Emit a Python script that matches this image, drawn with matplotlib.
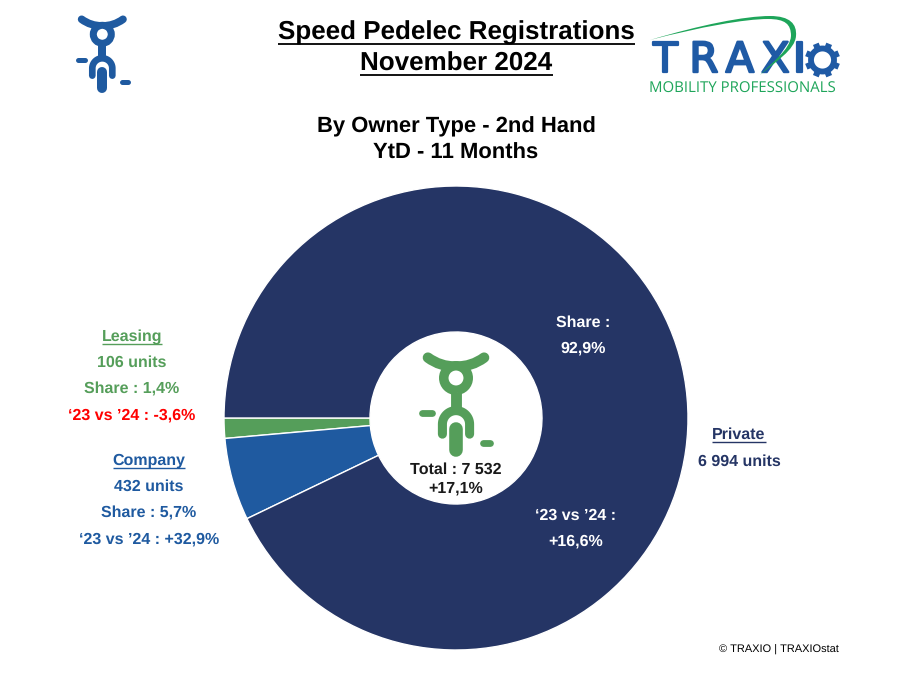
import numpy as np
import matplotlib
matplotlib.use("Agg")
import matplotlib.pyplot as plt
import matplotlib.patheffects as pe
from matplotlib.patches import Circle, Polygon, PathPatch
from matplotlib.path import Path

plt.rcParams['font.family'] = ['Liberation Sans', 'DejaVu Sans']
plt.rcParams['text.hinting'] = 'no_hinting'
plt.rcParams['text.hinting_factor'] = 1

# data
owner_types = ['Leasing', 'Company', 'Private']
units = [106, 432, 6994]
shares = ['1,4%', '5,7%', '92,9%']
changes = ['-3,6%', '+32,9%', '+16,6%']
total_label = 'Total : 7 532'
total_change = '+17,1%'

NAVY = '#253565'
BLUE = '#1F5AA0'
GREEN = '#559E5A'
RED = '#FF0000'
LOGO_BLUE = '#1F5AA5'
LOGO_GREEN = '#1EA55A'
LABEL_SIZE = 11.8


def underlined(ax, x, y, s, size, color, lw=1.5, gap=7):
    # text centred on x, with a line drawn under it
    t = ax.text(x, y, s, ha='center', va='center', fontsize=size, fontweight='bold', color=color)
    ax.figure.canvas.draw()
    box = t.get_window_extent()
    inv = ax.transData.inverted()
    x0 = inv.transform((box.x0, box.y0))[0]
    x1 = inv.transform((box.x1, box.y0))[0]
    ax.plot([x0, x1], [y + gap, y + gap], color=color, lw=lw, solid_capstyle='butt')


def label(ax, x, y, s, color):
    ax.text(x, y, s, ha='center', va='center', fontsize=LABEL_SIZE, fontweight='bold', color=color)


def draw_bike(ax, cx, cy, s, color, bg='white'):
    # pictogram, units are px of the small icon x3, origin in the ring centre
    def pts(xs, ys):
        return cx + np.array(xs) * s, cy + np.array(ys) * s

    k = s * 0.72  # stroke widths follow the icon scale
    verts = [(cx - 62 * s, cy - 45 * s), (cx - 35 * s, cy - 25 * s), (cx, cy - 25 * s),
             (cx + 35 * s, cy - 25 * s), (cx + 62 * s, cy - 45 * s)]
    codes = [Path.MOVETO, Path.CURVE3, Path.CURVE3, Path.CURVE3, Path.CURVE3]
    ax.add_patch(PathPatch(Path(verts, codes), fc='none', ec=color, lw=23 * k, capstyle='round'))
    ax.add_patch(Circle((cx, cy), 27 * s, fc=bg, ec=color, lw=21 * k))
    # neck with bolt
    x, y = pts([0, 0], [30, 72])
    ax.plot(x, y, color=color, lw=24 * k, solid_capstyle='butt')
    x, y = pts([4, -7, -1, -5, 7, 1], [32, 50, 50, 64, 45, 45])
    ax.add_patch(Polygon(np.column_stack([x, y]), fc=bg, ec='none'))
    # fork
    t = np.linspace(np.pi, 2 * np.pi, 30)
    fx = np.concatenate([[-30], 30 * np.cos(t), [30]])
    fy = np.concatenate([[124], 102 + 30 * np.sin(t), [124]])
    x, y = pts(fx, fy)
    ax.plot(x, y, color=color, lw=20 * k, solid_capstyle='round')
    # wheel
    x, y = pts([0, 0], [112, 160])
    ax.plot(x, y, color=color, lw=30 * k, solid_capstyle='round')
    # pegs
    x, y = pts([-74, -53], [78, 78])
    ax.plot(x, y, color=color, lw=15 * k, solid_capstyle='round')
    x, y = pts([59, 76], [144, 144])
    ax.plot(x, y, color=color, lw=15 * k, solid_capstyle='round')


def draw_logo(ax):
    # letters are set one by one, the logo type is wider than any installed font
    for ch, lx in zip('TRAXI', [665.5, 704, 740, 775.5, 799.5]):
        ax.text(lx, 60.5, ch, ha='center', va='center', fontsize=30, color=LOGO_BLUE, fontfamily='DejaVu Sans',
                path_effects=[pe.withStroke(linewidth=1.6, foreground=LOGO_BLUE)], zorder=2)
    # swoosh
    verts = [(650, 40), (700, 25), (745, 16), (770, 16), (790, 16), (797, 24), (796, 36),
             (795, 50), (775, 62), (760, 75), (772, 62), (790, 50), (791, 36),
             (791, 24), (785, 19), (768, 19), (745, 19), (700, 27), (650, 40)]
    codes = [Path.MOVETO] + [Path.CURVE4] * 18
    ax.add_patch(PathPatch(Path(verts, codes), fc=LOGO_GREEN, ec='none', zorder=3))
    # gear
    gx, gy = 822.5, 60
    ax.add_patch(Circle((gx, gy), 11.5, fc='none', ec=LOGO_BLUE, lw=4.2))
    for a in np.arange(0, 360, 45) + 22.5:
        ca, sa = np.cos(np.radians(a)), np.sin(np.radians(a))
        ax.plot([gx + 13 * ca, gx + 17.5 * ca], [gy + 13 * sa, gy + 17.5 * sa], color=LOGO_BLUE, lw=4.4,
                solid_capstyle='butt')
    ax.text(649, 88.5, 'MOBILITY PROFESSIONALS', ha='left', va='center', fontsize=11.1, color=LOGO_GREEN,
            fontfamily='Open Sans', fontweight='medium')


fig = plt.figure(figsize=(9, 6.75), dpi=100)
ax = fig.add_axes([0, 0, 1, 1])

colors = [GREEN, BLUE, NAVY]
ax.pie(units, colors=colors, startangle=180, counterclock=False, center=(456, 418), radius=232,
       wedgeprops=dict(width=146, edgecolor='white', linewidth=1))

ax.set_xlim(0, 900)
ax.set_ylim(675, 0)
ax.axis('off')

# titles
underlined(ax, 456.5, 33, 'Speed Pedelec Registrations', 18.9, 'black', lw=1.3, gap=11)
underlined(ax, 456.5, 64, 'November 2024', 18.9, 'black', lw=1.3, gap=11)
ax.text(456, 127, 'By Owner Type - 2nd Hand', ha='center', va='center', fontsize=15.5, fontweight='bold')
ax.text(456, 153, 'YtD - 11 Months', ha='center', va='center', fontsize=15.5, fontweight='bold')

# leasing label
underlined(ax, 132, 337, owner_types[0], LABEL_SIZE, GREEN, lw=1.0)
label(ax, 132, 362.5, f'{units[0]} units', GREEN)
label(ax, 132, 389, f'Share : {shares[0]}', GREEN)
label(ax, 132, 415.5, f'‘23 vs ’24 : {changes[0]}', RED)

# company label
underlined(ax, 149, 461, owner_types[1], LABEL_SIZE, BLUE, lw=1.0)
label(ax, 149, 486.5, f'{units[1]} units', BLUE)
label(ax, 149, 513, f'Share : {shares[1]}', BLUE)
label(ax, 149, 539, f'‘23 vs ’24 : {changes[1]}', BLUE)

# private label
underlined(ax, 739, 435, owner_types[2], LABEL_SIZE, NAVY, lw=1.0)
label(ax, 739, 461.5, f'{units[2]:,} units'.replace(',', ' '), NAVY)

# on the pie
label(ax, 583, 322.5, 'Share :', 'white')
label(ax, 583, 348.5, shares[2], 'white')
label(ax, 576, 515.5, '‘23 vs ’24 :', 'white')
label(ax, 576, 541.5, changes[2], 'white')

# centre
draw_bike(ax, 456, 378, 0.453, GREEN)
label(ax, 456, 469.5, total_label, '#1a1a1a')
label(ax, 456, 488.5, total_change, '#1a1a1a')

# corner icon + logo
draw_bike(ax, 102.3, 34.3, 1 / 3, BLUE)
draw_logo(ax)

ax.text(839, 649.5, '© TRAXIO | TRAXIOstat', ha='right', va='center', fontsize=8, color='black')

fig.savefig('out.png', dpi=100)
